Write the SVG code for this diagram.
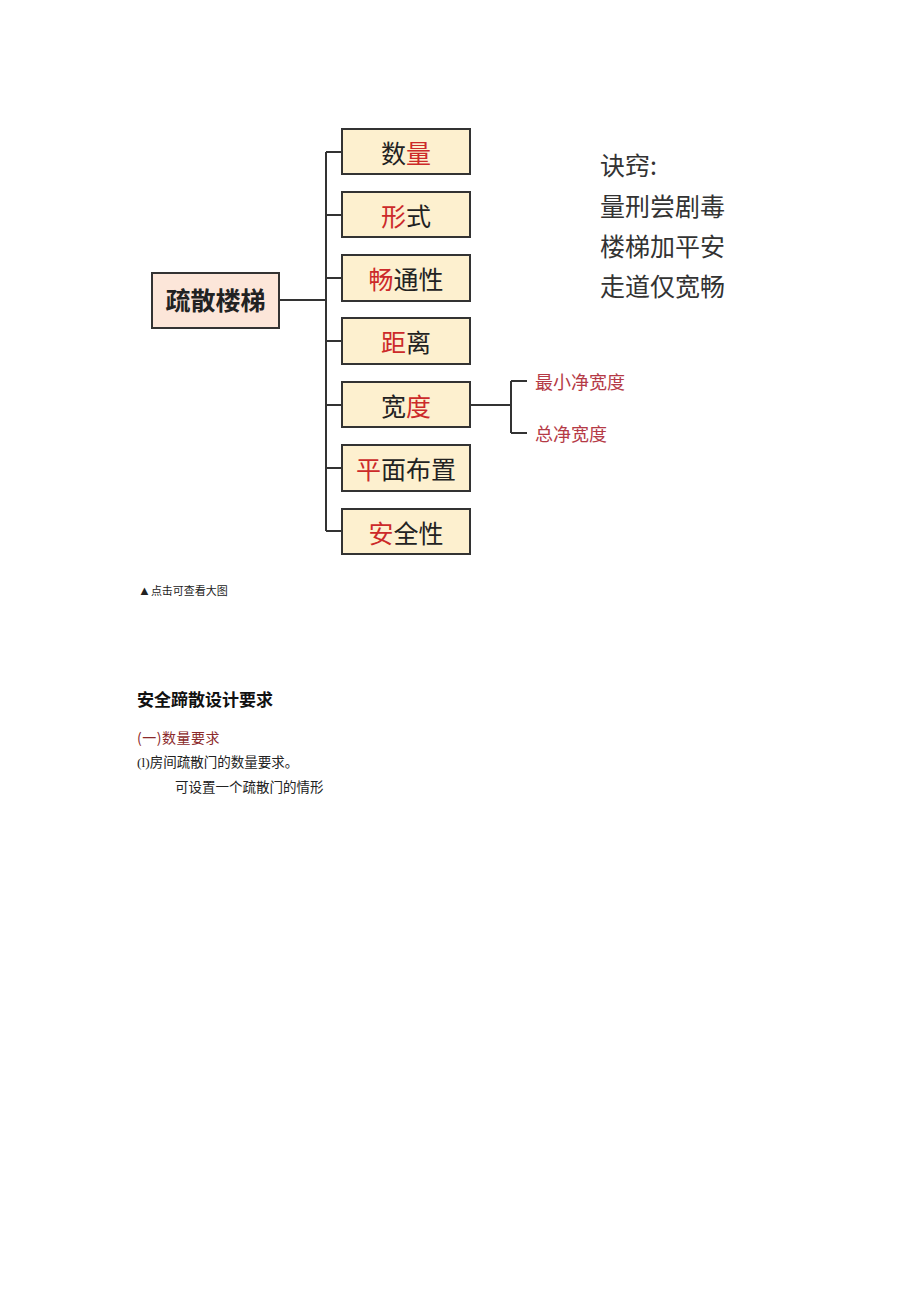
<svg xmlns="http://www.w3.org/2000/svg" width="920" height="1301" viewBox="0 0 920 1301">
<style>
.box{fill:#fdf0cf;stroke:#333;stroke-width:2}
.root{fill:#fce6d9;stroke:#333;stroke-width:2}
.bt{font-family:"Noto Sans CJK SC","Noto Sans CJK JP",sans-serif;font-size:25px;fill:#222;text-anchor:middle}
.r{fill:#cc2a2a}
.ln{stroke:#333;stroke-width:2;fill:none}
.sub{font-family:"Noto Sans CJK SC",sans-serif;font-size:18px;fill:#b53a46}
.mn{font-family:"Noto Sans CJK SC",sans-serif;font-size:25px;fill:#333}
.serif{font-family:"Liberation Serif","Noto Sans CJK SC",serif;fill:#222}
</style>
<rect width="920" height="1301" fill="#fff"/>
<g id="connectors">
<path class="ln" d="M279,300 H326 M326,152 V531 M326,152 H342 M326,215 H342 M326,278 H342 M326,341 H342 M326,405 H342 M326,468 H342 M326,531 H342"/>
<path class="ln" d="M470,405 H511 M511,381 V433 M511,381 H527 M511,433 H527"/>
</g>
<g id="root"><rect class="root" x="152" y="273" width="127" height="55"/><text class="bt" x="215.500" y="310" font-weight="bold" font-size="24" fill="#111">疏散楼梯</text></g>
<g id="n1"><rect class="box" x="342" y="129" width="128" height="45"/><text class="bt" x="406" y="163">数<tspan class="r">量</tspan></text></g>
<g id="n2"><rect class="box" x="342" y="192" width="128" height="45"/><text class="bt" x="406" y="226"><tspan class="r">形</tspan>式</text></g>
<g id="n3"><rect class="box" x="342" y="255" width="128" height="46"/><text class="bt" x="406" y="289"><tspan class="r">畅</tspan>通性</text></g>
<g id="n4"><rect class="box" x="342" y="318" width="128" height="46"/><text class="bt" x="406" y="352"><tspan class="r">距</tspan>离</text></g>
<g id="n5"><rect class="box" x="342" y="382" width="128" height="45"/><text class="bt" x="406" y="416">宽<tspan class="r">度</tspan></text></g>
<g id="n6"><rect class="box" x="342" y="445" width="128" height="46"/><text class="bt" x="406" y="479"><tspan class="r">平</tspan>面布置</text></g>
<g id="n7"><rect class="box" x="342" y="509" width="128" height="45"/><text class="bt" x="406" y="543"><tspan class="r">安</tspan>全性</text></g>
<g id="s1"><text class="sub" x="535" y="389">最小净宽度</text></g>
<g id="s2"><text class="sub" x="535" y="441">总净宽度</text></g>
<g id="mnemonic">
<text class="mn" x="600" y="175">诀窍:</text>
<text class="mn" x="600" y="216">量刑尝剧毒</text>
<text class="mn" x="600" y="256">楼梯加平安</text>
<text class="mn" x="600" y="296">走道仅宽畅</text>
</g>
<g id="body">
<text class="serif" x="138" y="595" font-size="11"><tspan font-size="13">▲</tspan>点击可查看大图</text>
<text x="137" y="706" font-family="Noto Sans CJK SC,sans-serif" font-size="17" font-weight="bold" fill="#111">安全蹄散设计要求</text>
<text x="137" y="743" font-family="Noto Sans CJK SC,sans-serif" font-size="14" letter-spacing="0.5" fill="#8b2a2a">(一)数量要求</text>
<text class="serif" x="137" y="767" font-size="13.500">(l)房间疏散门的数量要求。</text>
<text class="serif" x="175" y="792" font-size="13.500">可设置一个疏散门的情形</text>
</g>
</svg>
